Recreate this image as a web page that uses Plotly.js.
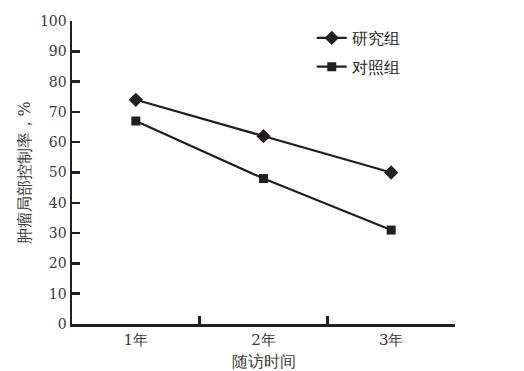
<!DOCTYPE html>
<html>
<head>
<meta charset="utf-8">
<script src="https://cdn.plot.ly/plotly-3.0.1.min.js"></script>
<style>html,body{margin:0;padding:0;background:#fff;}</style>
</head>
<body>
<div id="chart" style="width:524px;height:371px;"></div>
<script>
const categories = ["1年", "2年", "3年"];
const studyGroup = [74, 62, 50];
const controlGroup = [67, 48, 31];
const seriesNames = ["研究组", "对照组"];
const yTicks = [0, 10, 20, 30, 40, 50, 60, 70, 80, 90, 100];

const FONT = "DejaVu Serif";
const INK = "#231f20";
const TXT = "#3a3a3a";

const traces = [
  {
    x: categories, y: studyGroup, name: seriesNames[0], legendgroup: "a", type: "scatter", mode: "lines+markers",
    line: {color: INK, width: 2.2},
    marker: {symbol: "diamond", size: 11, color: INK}
  },
  {
    x: categories, y: controlGroup, name: seriesNames[1], legendgroup: "b", type: "scatter", mode: "lines+markers",
    line: {color: INK, width: 2.2},
    marker: {symbol: "square", size: 9, color: INK}
  }
];

const layout = {
  width: 524, height: 371,
  margin: {l: 72, r: 69, t: 21, b: 47},
  paper_bgcolor: "#fff", plot_bgcolor: "#fff",
  font: {family: FONT, color: TXT, size: 15},
  showlegend: true,
  legend: {
    x: 0.626, y: 1.0, xanchor: "left", yanchor: "top",
    bgcolor: "rgba(0,0,0,0)", font: {family: FONT, size: 16, color: INK},
    tracegroupgap: 5, itemwidth: 30
  },
  xaxis: {
    type: "category", range: [-0.5, 2.5],
    tickson: "boundaries", ticks: "inside", ticklen: 8, tickwidth: 2.5, tickcolor: INK,
    showline: true, linecolor: INK, linewidth: 2.5, showgrid: false, zeroline: false,
    tickfont: {family: FONT, size: 15, color: TXT}
  },
  yaxis: {
    range: [0, 100], tickvals: yTicks, ticktext: yTicks.map(String),
    ticks: "inside", ticklen: 8, tickwidth: 2.5, tickcolor: INK,
    showline: true, linecolor: INK, linewidth: 2.5, showgrid: false, zeroline: false,
    tickfont: {family: FONT, size: 14, color: TXT}
  },
  annotations: [
    {text: "随访时间", xref: "paper", yref: "paper", x: 0.5, y: -0.125, xanchor: "center", yanchor: "middle",
     showarrow: false, font: {family: FONT, size: 16, color: TXT}},
    {text: "肿瘤局部控制率，%", xref: "paper", yref: "paper", x: -0.123, y: 0.5, xanchor: "center", yanchor: "middle",
     textangle: -90, showarrow: false, font: {family: FONT, size: 16, color: TXT}}
  ]
};

Plotly.newPlot("chart", traces, layout, {displayModeBar: false, staticPlot: true});
</script>
</body>
</html>
